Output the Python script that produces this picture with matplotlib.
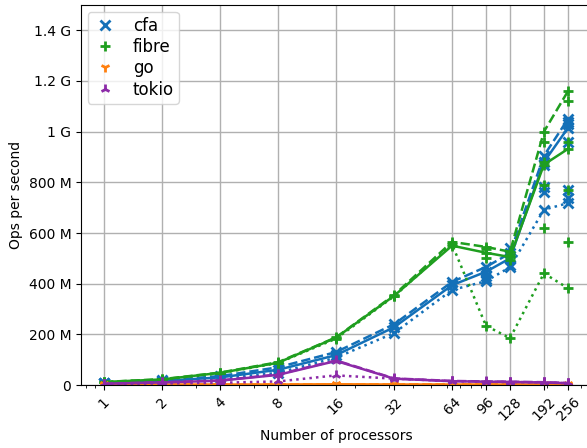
"""Throughput vs processor count for cfa / fibre / go / tokio."""

import matplotlib

matplotlib.use("Agg")
import matplotlib.pyplot as plt
from matplotlib.lines import Line2D
from matplotlib.ticker import EngFormatter, NullFormatter

procs = [1, 2, 4, 8, 16, 32, 64, 96, 128, 192, 256]
tick_labels = ["1", "2", "4", "8", "16", "32", "64", "96", "128", "192", "256"]

# values in millions of ops per second, one list per run variant
cfa_solid = [8, 16, 30, 60, 118, 228, 394, 447, 500, 880, 1015]
cfa_dashed = [9, 18, 35, 70, 130, 240, 407, 466, 520, 905, 1050]
cfa_dotted = [7, 13, 25, 48, 108, 205, 375, 410, 465, 692, 718]

fibre_solid = [12, 22, 48, 88, 187, 352, 550, 522, 505, 870, 932]
fibre_dashed = [12, 23, 49, 90, 188, 355, 565, 545, 526, 1000, 1160]
fibre_dotted = [11, 21, 46, 87, 183, 350, 555, 234, 185, 441, 382]

go_solid = [2, 2, 2, 2, 3, 2, 2, 2, 2, 2, 2]
go_dashed = [2, 2, 2, 2, 2, 2, 2, 2, 2, 2, 2]
go_dotted = [1, 1, 1, 1, 2, 1, 1, 1, 1, 1, 1]

tokio_solid = [5, 10, 17, 40, 95, 25, 15, 13, 12, 10, 7]
tokio_dashed = [5, 11, 18, 42, 97, 26, 16, 14, 13, 11, 8]
tokio_dotted = [4, 6, 9, 14, 38, 25, 15, 13, 12, 10, 7]

# individual runs that sit away from the plotted lines
cfa_extra_x = [96, 96, 128, 128, 192, 192, 192, 256, 256, 256, 256, 256]
cfa_extra_y = [430, 420, 540, 475, 870, 780, 760, 1040, 1030, 960, 770, 740]
fibre_extra_x = [96, 96, 128, 128, 192, 192, 192, 192, 256, 256, 256, 256]
fibre_extra_y = [535, 500, 515, 495, 960, 880, 790, 620, 1120, 960, 770, 565]

libs = [
    ("cfa", "#1370b8", "x", [cfa_solid, cfa_dashed, cfa_dotted], cfa_extra_x, cfa_extra_y),
    ("fibre", "#1f9e1f", "+", [fibre_solid, fibre_dashed, fibre_dotted], fibre_extra_x, fibre_extra_y),
    ("go", "#ff7f0e", "1", [go_solid, go_dashed, go_dotted], [], []),
    ("tokio", "#8c2aa8", "2", [tokio_solid, tokio_dashed, tokio_dotted], [], []),
]
styles = ["-", "--", ":"]

fig = plt.figure(figsize=(5.87, 4.48), dpi=100)
ax = fig.add_axes([81 / 587, 63 / 448, 510 / 587, 380 / 448])

handles = []
for name, color, marker, runs, ex, ey in libs:
    for values, ls in zip(runs, styles):
        ax.plot(procs, [v * 1e6 for v in values], linestyle=ls, color=color, linewidth=1.8,
                marker=marker, markersize=7, markeredgewidth=2)
    if ex:
        ax.plot(ex, [v * 1e6 for v in ey], linestyle="none", color=color,
                marker=marker, markersize=7, markeredgewidth=2)
    handles.append(Line2D([], [], linestyle="none", color=color, marker=marker,
                          markersize=7, markeredgewidth=2, label=name))

ax.set_xscale("log")
ax.set_xticks(procs)
ax.set_xticklabels(tick_labels, rotation=45)
ax.xaxis.set_minor_formatter(NullFormatter())
ax.set_xlim(0.758, 337)
ax.set_ylim(0, 1.5e9)
ax.set_yticks([0, 2e8, 4e8, 6e8, 8e8, 1e9, 1.2e9, 1.4e9])
ax.yaxis.set_major_formatter(EngFormatter())
ax.grid(True, which="major", color="#b0b0b0", linewidth=1)
ax.set_xlabel("Number of processors")
ax.set_ylabel("Ops per second")
ax.legend(handles=handles, loc="upper left", fontsize=12, labelspacing=0.2,
          handlelength=1.5, handletextpad=0.9, borderpad=0.3, borderaxespad=0.4)

fig.savefig("out.png")
